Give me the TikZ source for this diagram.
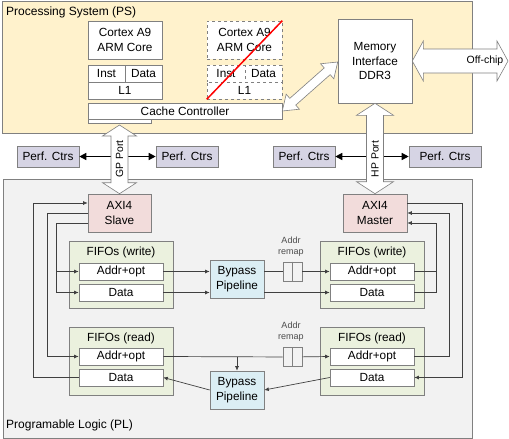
\documentclass[tikz,border=0pt]{standalone}
\usepackage{fontspec}
\setmainfont{Liberation Sans}
\usetikzlibrary{arrows.meta,calc}

\definecolor{psfill}{RGB}{255,242,204}
\definecolor{plfill}{RGB}{242,242,242}
\definecolor{ctrfill}{RGB}{214,212,228}
\definecolor{axifill}{RGB}{242,220,219}
\definecolor{fifofill}{RGB}{235,241,222}
\definecolor{bpfill}{RGB}{219,238,244}
\definecolor{edge}{RGB}{128,128,128}
\definecolor{wirecol}{RGB}{64,64,64}

\tikzset{
  blk/.style={draw=edge, fill=white, inner sep=0pt, align=center, line width=0.6pt,
              font=\fontsize{11.8}{14.5}\selectfont},
  txt/.style={inner sep=0pt, align=center, font=\fontsize{11.8}{14.5}\selectfont},
  bigarrow/.style={draw=edge, fill=white, line width=0.6pt, line join=miter},
  wire/.style={draw=wirecol, line width=0.7pt},
  ctrarrow/.style={draw=black, line width=1.4pt, -{Triangle[length=7pt,width=7pt]}},
}

\begin{document}
\begin{tikzpicture}[x=1pt, y=-1pt, >={Latex[length=4.5pt,width=4pt]}]
\useasboundingbox (0,0) rectangle (509,439);

% backgrounds
\draw[draw=edge, fill=psfill, line width=0.6pt] (2,1) rectangle (472,133);
\draw[draw=edge, fill=plfill, line width=0.6pt] (3,179) rectangle (472,438);
\node[txt, anchor=west, font=\fontsize{12}{14}\selectfont] (pslbl) at (6,12) {Processing System (PS)};
\node[txt, anchor=west, font=\fontsize{12}{14}\selectfont] (pllbl) at (6,425) {Programable Logic (PL)};

% processing system
\node[blk, minimum width=74pt, minimum height=38pt] (core1) at (125,40) {Cortex A9\\ARM Core};
\node[blk, minimum width=37pt, minimum height=17pt] (inst1) at (106.5,73.5) {Inst};
\node[blk, minimum width=37pt, minimum height=17pt] (data1) at (143.5,73.5) {Data};
\node[blk, minimum width=74pt, minimum height=17pt] (l1a) at (125,90.5) {L1};

\node[blk, dashed, minimum width=75pt, minimum height=38pt] (core2) at (244.5,40) {Cortex A9\\ARM Core};
\node[blk, dashed, minimum width=38pt, minimum height=17pt] (inst2) at (226,73.5) {Inst};
\node[blk, dashed, minimum width=37pt, minimum height=17pt] (data2) at (263.5,73.5) {Data};
\node[blk, dashed, minimum width=75pt, minimum height=17pt] (l1b) at (244.5,90.5) {L1};
\draw[red, line width=1.5pt] (l1b.south west) -- (core2.north east);

\draw[draw=edge, fill=white, line width=0.6pt] (88,119) rectangle (151,123);
\node[blk, minimum width=194pt, minimum height=16pt] (cache) at (185,111) {Cache Controller};
\node[blk, minimum width=74pt, minimum height=84pt] (mem) at (375,61) {Memory\\Interface\\DDR3};

% perf counters
\node[blk, fill=ctrfill, minimum width=62pt, minimum height=21pt] (ctr1) at (48,156.5) {Perf. Ctrs};
\node[blk, fill=ctrfill, minimum width=62pt, minimum height=21pt] (ctr2) at (187,156.5) {Perf. Ctrs};
\node[blk, fill=ctrfill, minimum width=62pt, minimum height=21pt] (ctr3) at (304,156.5) {Perf. Ctrs};
\node[blk, fill=ctrfill, minimum width=72pt, minimum height=21pt] (ctr4) at (445,156.5) {Perf. Ctrs};

% programmable logic
\node[blk, fill=axifill, minimum width=63pt, minimum height=38pt] (slave) at (119.5,213) {AXI4\\Slave};
\node[blk, fill=axifill, minimum width=64pt, minimum height=38pt] (master) at (375,213) {AXI4\\Master};

\node[blk, fill=fifofill, minimum width=104pt, minimum height=67pt] (fwL) at (121,274.5) {};
\node[txt] (fwLt) at (121,252) {FIFOs (write)};
\node[blk, minimum width=84pt, minimum height=17pt] (awL) at (121,271.5) {Addr+opt};
\node[blk, minimum width=84pt, minimum height=17pt] (dwL) at (121,292.5) {Data};

\node[blk, fill=fifofill, minimum width=104pt, minimum height=67pt] (fwR) at (372,274.5) {};
\node[txt] (fwRt) at (372,252) {FIFOs (write)};
\node[blk, minimum width=84pt, minimum height=17pt] (awR) at (372,271.5) {Addr+opt};
\node[blk, minimum width=84pt, minimum height=17pt] (dwR) at (372,292.5) {Data};

\node[blk, fill=fifofill, minimum width=104pt, minimum height=68pt] (frL) at (121,361) {};
\node[txt] (frLt) at (121,338) {FIFOs (read)};
\node[blk, minimum width=84pt, minimum height=17pt] (arL) at (121,356.5) {Addr+opt};
\node[blk, minimum width=84pt, minimum height=17pt] (drL) at (121,377.5) {Data};

\node[blk, fill=fifofill, minimum width=104pt, minimum height=68pt] (frR) at (372,361) {};
\node[txt] (frRt) at (372,338) {FIFOs (read)};
\node[blk, minimum width=84pt, minimum height=17pt] (arR) at (372,356.5) {Addr+opt};
\node[blk, minimum width=84pt, minimum height=17pt] (drR) at (372,377.5) {Data};

\node[blk, fill=bpfill, minimum width=54pt, minimum height=38pt] (bpw) at (237,279) {Bypass\\Pipeline};
\node[blk, fill=bpfill, minimum width=54pt, minimum height=38pt] (bpr) at (237,390) {Bypass\\Pipeline};

\node[blk, fill=plfill, minimum width=19pt, minimum height=19pt] (rmw) at (292.5,271.5) {};
\draw[draw=edge, line width=0.6pt] (rmw.north) -- (rmw.south);
\node[txt, text=black!70, font=\fontsize{9}{11}\selectfont] (rmwt) at (291,247) {Addr\\remap};
\node[blk, fill=plfill, minimum width=19pt, minimum height=19pt] (rmr) at (292.5,357) {};
\draw[draw=edge, line width=0.6pt] (rmr.north) -- (rmr.south);
\node[txt, text=black!70, font=\fontsize{9}{11}\selectfont] (rmrt) at (291,332) {Addr\\remap};

% write path
\draw[wire,->] (awL.east) -- (awL.east -| bpw.west);
\draw[wire,->] (dwL.east) -- (dwL.east -| bpw.west);
\draw[wire,->] (bpw.east |- awR.west) -- (rmw) -- (awR.west);
\draw[wire,->] (bpw.east |- dwR.west) -- (dwR.west);

% read path
\draw[wire,->] (arL.east) -- (rmr) -- (arR.west);
\draw[wire,->] (arL.east -| bpr.north) -- (bpr.north);
\draw[wire,->] (drR.west) -- (bpr.east);
\draw[wire,->] (bpr.west) -- (drL.east);

% loops to the AXI4 ports
\draw[wire,->] (drL.west) -- ++(-45,0) |- ([yshift=10pt]slave.west);
\draw[wire,->] (slave.west) -- ++(-40,0) |- (arL.west);
\draw[wire,->] ([yshift=-10pt]slave.west) -- ++(-31,0) coordinate (jl) |- (dwL.west);
\draw[wire,->] (jl |- awL.west) -- (awL.west);

\draw[wire,->] ([yshift=10pt]master.east) -- ++(55,0) |- (drR.east);
\draw[wire,->] (arR.east) -- ++(35,0) |- (master.east);
\draw[wire,->] (dwR.east) -- ++(22,0) coordinate (jr) |- ([yshift=-10pt]master.east);
\draw[wire] (awR.east) -- (awR.east -| jr);

% ports
\coordinate (gptop) at (119.5,125);
\draw[ctrarrow] (ctr1.east -| gptop) -- (ctr1.east);
\draw[ctrarrow] (ctr2.west -| gptop) -- (ctr2.west);
\draw[ctrarrow] (ctr3.east -| mem.south) -- (ctr3.east);
\draw[ctrarrow] (ctr4.west -| mem.south) -- (ctr4.west);

\draw[bigarrow] (gptop) -- ++(17,11) -- ++(-8.5,0) -- ($(slave.north)+(8.5,-11)$) -- ++(8.5,0)
  -- (slave.north) -- ++(-17,-11) -- ++(8.5,0) -- ($(gptop)+(-8.5,11)$) -- ++(-8.5,0) -- cycle;
\node[txt, rotate=90, font=\fontsize{10.4}{12}\selectfont] (gpport) at (119.5,159) {GP Port};

\draw[bigarrow] (mem.south) -- ++(18.5,12) -- ++(-10,0) -- ($(master.north)+(8.5,-12)$) -- ++(10,0)
  -- (master.north) -- ++(-18.5,-12) -- ++(10,0) -- ($(mem.south)+(-8.5,12)$) -- ++(-10,0) -- cycle;
\node[txt, rotate=90, font=\fontsize{10.4}{12}\selectfont] (hpport) at (375,159) {HP Port};

\coordinate (offchip) at (508,61);
\draw[bigarrow] (mem.east) -- ++(11,-20) -- ++(0,8) -- ($(offchip)+(-11,-12)$) -- ++(0,-8)
  -- (offchip) -- ++(-11,20) -- ++(0,-8) -- ($(mem.east)+(11,12)$) -- ++(0,8) -- cycle;
\node[txt, font=\fontsize{10.5}{12}\selectfont] (offlbl) at (485,61) {Off-chip};

\coordinate (da) at (cache.east);
\coordinate (db) at ([yshift=-1pt]mem.west);
\draw[bigarrow] (da)
  -- ($(da)!14pt!(db)!10pt!90:(db)$)
  -- ($(da)!14pt!(db)!4.5pt!90:(db)$)
  -- ($(db)!14pt!(da)!4.5pt!270:(da)$)
  -- ($(db)!14pt!(da)!10pt!270:(da)$)
  -- (db)
  -- ($(db)!14pt!(da)!10pt!90:(da)$)
  -- ($(db)!14pt!(da)!4.5pt!90:(da)$)
  -- ($(da)!14pt!(db)!4.5pt!270:(db)$)
  -- ($(da)!14pt!(db)!10pt!270:(db)$)
  -- cycle;

\end{tikzpicture}
\end{document}
